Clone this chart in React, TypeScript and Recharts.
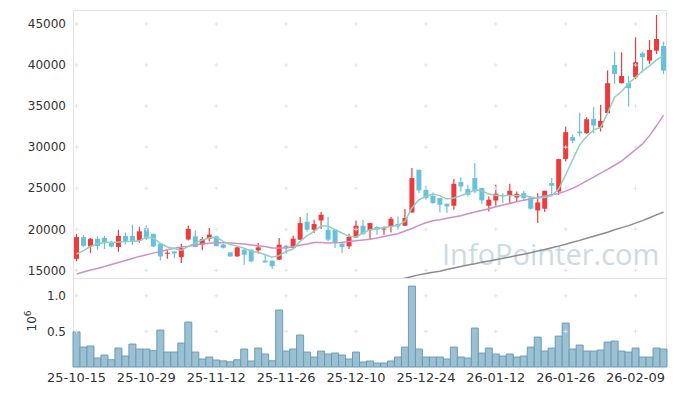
import React from 'react';
import { ComposedChart, Bar, Line, XAxis, YAxis, ReferenceDot } from 'recharts';

const dates = [
  '25-10-15','25-10-16','25-10-17','25-10-20','25-10-21','25-10-22','25-10-23','25-10-24','25-10-27','25-10-28',
  '25-10-29','25-10-30','25-10-31','25-11-03','25-11-04','25-11-05','25-11-06','25-11-07','25-11-10','25-11-11',
  '25-11-12','25-11-13','25-11-14','25-11-17','25-11-18','25-11-19','25-11-20','25-11-21','25-11-24','25-11-25',
  '25-11-26','25-11-27','25-11-28','25-12-01','25-12-02','25-12-03','25-12-04','25-12-05','25-12-08','25-12-09',
  '25-12-10','25-12-11','25-12-12','25-12-15','25-12-16','25-12-17','25-12-18','25-12-19','25-12-22','25-12-23',
  '25-12-24','25-12-26','25-12-29','25-12-30','26-01-02','26-01-05','26-01-06','26-01-07','26-01-08','26-01-09',
  '26-01-12','26-01-13','26-01-14','26-01-15','26-01-16','26-01-19','26-01-20','26-01-21','26-01-22','26-01-23',
  '26-01-26','26-01-27','26-01-28','26-01-29','26-01-30','26-02-02','26-02-03','26-02-04','26-02-05','26-02-06',
  '26-02-09','26-02-10','26-02-11','26-02-12','26-02-13',
];

const open = [
  16400,19050,17920,18850,18950,18450,17850,19200,19200,18600,
  20150,19450,18250,17050,17300,16600,18750,19150,18150,18850,
  19150,18150,17190,16700,17520,17520,17430,16180,16180,16300,
  18000,17720,18730,20920,19950,21080,19950,19950,18250,17920,
  19010,20435,19870,20277,20030,20277,20640,20435,22050,27245,
  24813,24083,23800,23110,22870,25750,24900,26240,25020,22870,
  23510,24160,24080,23880,24400,23880,22300,22500,25630,24600,
  28550,31220,31900,31700,33440,32390,34140,40010,37790,37790,
  38510,41430,40540,41750,42320,
];
const high = [
  19450,19300,18950,19150,19200,18600,19950,19600,20550,20300,
  20500,19450,18300,17450,17300,18250,20450,19850,19050,20150,
  19200,18250,17250,17850,17720,17550,18330,17030,16200,18940,
  18125,19220,21490,21980,21165,22100,21490,19950,18530,19460,
  21080,21165,20800,20350,20350,21490,21570,22466,27450,27245,
  25300,24485,23800,23110,26110,26350,25420,28060,25050,24000,
  25420,24400,25540,24600,24690,24000,24400,24700,26240,28600,
  32510,31500,34200,33650,34870,35150,39320,41630,41550,38670,
  43380,41630,43050,46090,42850,
];
const low = [
  16100,17850,17100,17500,17600,17800,17250,18150,18100,18350,
  18700,17850,16200,16400,16500,15900,18650,17800,17450,18550,
  17900,17650,16650,16650,15690,16000,17030,15950,15170,16250,
  17030,17640,18700,19745,19550,20030,18530,17720,17110,17600,
  19000,19340,18730,19340,19340,19620,19950,20400,22000,24400,
  23597,23110,22050,21980,22380,24600,24000,24400,23110,22180,
  22870,23200,23110,23390,23510,22380,20760,22100,24200,24200,
  28250,30490,31300,31620,31700,31900,34100,37700,37750,34940,
  38270,39080,40130,41350,38910,
];
const close = [
  19050,18000,18850,17950,18350,17900,19200,18550,18600,19750,
  18850,17900,16700,17150,17050,17700,20050,17850,18800,19350,
  17950,17750,16700,17800,16910,16100,17800,15970,15490,18125,
  17720,18855,20760,19950,20640,21773,18730,18330,17840,19060,
  20435,19425,20760,19950,20100,21287,20350,21370,26236,24728,
  23800,23195,22990,22780,25543,25215,24200,24600,23510,23600,
  24330,24000,24690,24330,23800,22500,23270,24690,25300,28550,
  31830,30770,31700,33400,32630,33200,37790,38920,38670,37180,
  40340,40950,41840,43170,39320,
];
const ma5 = [
  16990,17400,17900,18250,18400,18420,18450,18500,18530,18600,
  19060,18940,18300,17850,17650,17430,17920,18330,18700,18950,
  19060,18530,18150,17950,17700,17320,17200,16910,16590,16790,
  17320,17600,18530,19220,19745,20400,20400,19950,19550,19140,
  19060,19550,19950,20070,20230,20350,20480,20960,22590,23600,
  24000,24285,24100,23680,23800,24083,24400,24813,24690,24285,
  24120,24120,24120,24120,24120,23920,23800,23880,24083,24898,
  26640,28460,30283,31300,32110,32390,34140,36080,36770,37790,
  38510,39280,39890,40620,41150,
];
const ma20 = [
  14560,14800,15050,15230,15480,15720,15960,16200,16450,16700,
  16900,17100,17300,17520,17700,17850,17950,18080,18200,18300,
  18400,18350,18320,18260,18200,18100,18000,17900,17730,17720,
  17720,17880,18050,18200,18380,18390,18340,18350,18380,18500,
  18600,18700,18800,18950,19130,19300,19460,19800,20100,20480,
  20800,21050,21170,21350,21500,21650,21900,22100,22300,22500,
  22750,22950,23150,23360,23550,23700,23870,24050,24200,24350,
  24650,25000,25400,25900,26350,26850,27300,27800,28300,29000,
  29700,30400,31400,32600,33900,
];
const ma60 = [
  null,null,null,null,null,null,null,null,null,null,
  null,null,null,null,null,null,null,null,null,null,
  null,null,null,null,null,null,null,null,null,null,
  null,null,null,null,null,null,null,null,null,null,
  null,null,null,null,null,13650,13850,14050,14250,14450,
  14620,14760,14900,15100,15300,15480,15650,15800,15980,16130,
  16300,16470,16620,16800,16970,17150,17350,17550,17750,17950,
  18170,18420,18650,18900,19150,19400,19650,19950,20200,20450,
  20750,21050,21400,21750,22100,
];
const volume = [
  0.495,0.28,0.295,0.126,0.168,0.102,0.266,0.154,0.322,0.252,
  0.252,0.229,0.519,0.21,0.21,0.336,0.631,0.21,0.112,0.14,
  0.098,0.086,0.072,0.102,0.252,0.084,0.266,0.182,0.088,0.80,
  0.224,0.252,0.449,0.21,0.14,0.224,0.182,0.196,0.168,0.112,
  0.21,0.07,0.084,0.056,0.056,0.084,0.14,0.28,1.136,0.252,
  0.14,0.14,0.14,0.112,0.28,0.14,0.126,0.547,0.196,0.266,
  0.182,0.154,0.182,0.14,0.154,0.28,0.42,0.224,0.266,0.434,
  0.617,0.252,0.308,0.224,0.224,0.238,0.35,0.364,0.224,0.21,
  0.266,0.14,0.14,0.266,0.252,
];

const tickDates = ['25-10-15','25-10-29','25-11-12','25-11-26','25-12-10','25-12-24','26-01-12','26-01-26','26-02-09'];
const priceTicks = [15000, 20000, 25000, 30000, 35000, 40000, 45000];
const volumeTicks = [0.5, 1.0];

const RED = '#ee3a3a';
const BLUE = '#68c1da';
const FONT = 'DejaVu Sans';

const data = dates.map((d, i) => ({
  date: d,
  open: open[i],
  high: high[i],
  low: low[i],
  close: close[i],
  range: [low[i], high[i]],
  ma5: ma5[i],
  ma20: ma20[i],
  ma60: ma60[i],
  volume: volume[i],
}));

const Candle = (props: any) => {
  const { x, y, width, height, payload } = props;
  if (!payload) return null;
  const { open: o, close: c, high: h, low: l } = payload;
  const top = Math.min(y, y + height);
  const bot = Math.max(y, y + height);
  const ratio = h === l ? 0 : (bot - top) / (h - l);
  const yOf = (v: number) => bot - (v - l) * ratio;
  const up = c >= o;
  const color = up ? RED : BLUE;
  const cx = x + width / 2;
  const bTop = yOf(Math.max(o, c));
  const bBot = yOf(Math.min(o, c));
  const bw = 5;
  return (
    <g>
      <line x1={cx} x2={cx} y1={top} y2={bot} stroke={color} strokeWidth={1.2} />
      <rect x={cx - bw / 2} y={bTop} width={bw} height={Math.max(1, bBot - bTop)} fill={color} />
    </g>
  );
};

const Plus = (p: any) => (
  <path d={`M${p.cx - 2},${p.cy}h4M${p.cx},${p.cy - 2}v4`} stroke="#e4e4e4" strokeWidth={1} fill="none" />
);

export default function App() {
  return (
    <div style={{ position: 'absolute', left: 0, top: 0, width: 677, height: 396, background: '#fff', overflow: 'hidden' }}>
      <svg width={677} height={396} style={{ position: 'absolute', left: 0, top: 0 }}>
        <text x={442} y={265} fontFamily="Open Sans" fontSize={29} fill="#c9dce5">InfoPointer.com</text>
        <text transform="translate(36,321) rotate(-90)" textAnchor="middle" fontFamily={FONT} fontSize={12} fill="#333">
          10<tspan dy={-5} fontSize={9}>6</tspan>
        </text>
      </svg>
      <div style={{ position: 'absolute', left: 73, top: 10, width: 594, height: 357, border: '1px solid #e3e3e3', boxSizing: 'border-box' }} />
      <div style={{ position: 'absolute', left: 73, top: 278, width: 594, height: 1, background: '#e3e3e3' }} />
      <div style={{ position: 'absolute', left: 0, top: 0 }}>
        <ComposedChart width={677} height={278} data={data} margin={{ top: 10, right: 10, left: 0, bottom: 0 }} barCategoryGap={0}>
          <XAxis dataKey="date" hide />
          <YAxis
            domain={[14070, 46700]}
            allowDataOverflow
            ticks={priceTicks}
            width={73}
            axisLine={false}
            tickLine={false}
            tickSize={5}
            tickMargin={2}
            tick={{ fontSize: 12, fill: '#333', fontFamily: FONT }}
          />
          {tickDates.map((d) =>
            priceTicks.map((v) => (
              <ReferenceDot key={d + v} x={d} y={v} shape={Plus} ifOverflow="visible" />
            ))
          )}
          <Bar dataKey="range" shape={Candle} isAnimationActive={false} />
          <Line dataKey="ma60" stroke="#8c8c8c" strokeWidth={1.5} dot={false} isAnimationActive={false} />
          <Line dataKey="ma20" stroke="#cf8fc8" strokeWidth={1.5} dot={false} isAnimationActive={false} />
          <Line dataKey="ma5" stroke="#8fd0c2" strokeWidth={1.5} dot={false} isAnimationActive={false} />
        </ComposedChart>
      </div>
      <div style={{ position: 'absolute', left: 0, top: 278 }}>
        <ComposedChart width={677} height={118} data={data} margin={{ top: 0, right: 10, left: 0, bottom: 0 }} barCategoryGap={0}>
          <XAxis
            dataKey="date"
            interval={9}
            height={29}
            axisLine={false}
            tickLine={false}
            tickSize={4}
            tickMargin={2}
            tick={{ fontSize: 13, fill: '#333', fontFamily: FONT }}
          />
          <YAxis
            domain={[0, 1.25]}
            ticks={volumeTicks}
            width={73}
            axisLine={false}
            tickLine={false}
            tickSize={5}
            tickMargin={2}
            tickFormatter={(v: number) => v.toFixed(1)}
            tick={{ fontSize: 12, fill: '#333', fontFamily: FONT }}
          />
          {tickDates.map((d) =>
            volumeTicks.map((v) => (
              <ReferenceDot key={d + v} x={d} y={v} shape={Plus} ifOverflow="visible" />
            ))
          )}
          <Bar dataKey="volume" fill="#9bc0d1" stroke="#6a9cb7" strokeWidth={1} isAnimationActive={false} />
        </ComposedChart>
      </div>
    </div>
  );
}
